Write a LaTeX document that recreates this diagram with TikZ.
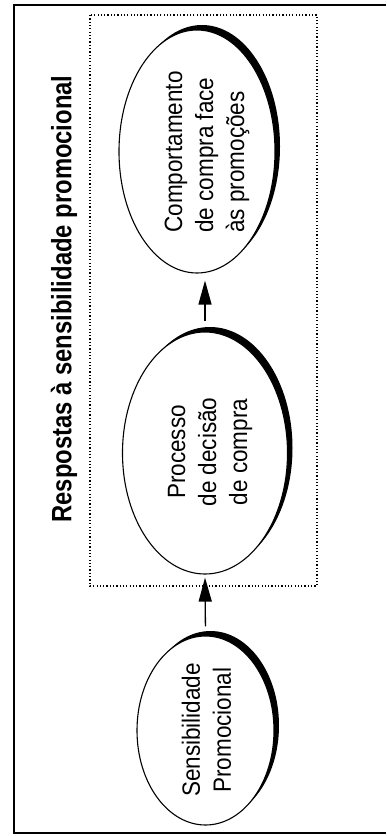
\documentclass[tikz,border=0pt]{standalone}
\usepackage{fontspec}
\setmainfont{Liberation Sans}
\newfontfamily\titlefont[FakeStretch=0.85]{Liberation Sans}
\newfontfamily\stagefont[FakeStretch=0.9]{Liberation Sans}
\usetikzlibrary{arrows.meta,shapes.geometric,shadows}

\begin{document}
\begin{tikzpicture}[x=1pt, y=-1pt,
  stage/.style={ellipse, draw, line width=1.1pt, fill=white, inner sep=0pt,
    drop shadow={shadow xshift=5pt, shadow yshift=5pt, fill=black, opacity=1}},
  stagetext/.style={rotate=90, inner sep=0pt, font=\stagefont\fontsize{25}{31}\selectfont},
  flow/.style={-{Triangle[length=24pt, width=13pt]}, line width=1.3pt}]

\useasboundingbox (0,0) rectangle (386,836);

% Outer frame (open on the right)
\draw[line width=2pt] (386,5) -- (14,5) -- (14,833) -- (386,833);

% Responses block
\draw[line width=1.2pt, dash pattern=on 1.2pt off 2.1pt] (90,15) rectangle (317,586);
\node[rotate=90, inner sep=0pt, font=\titlefont\bfseries\fontsize{28}{30}\selectfont]
  (title) at (64,299) {Respostas à sensibilidade promocional};

% Stages
\node[stage, minimum width=156pt, minimum height=243pt] (comp) at (197,151.5) {};
\node[stage, minimum width=165pt, minimum height=242pt] (proc) at (205,453) {};
\node[stage, minimum width=137pt, minimum height=189pt] (sens) at (205.5,730.5) {};

\node[stagetext, align=left] (comptext) at (207,152) {Comportamento\\de compra face\\às promoções};
\node[stagetext, align=center] (proctext) at (210,452) {Processo\\de decisão\\de compra};
\node[stagetext, align=center] (senstext) at (206.5,730) {Sensibilidade\\Promocional};

% Arrows
\draw[flow, shorten <=9pt, shorten >=3pt] (sens.north) -- (proc.south);
\draw[flow, shorten <=10pt, shorten >=7pt] (proc.north) -- (proc.north |- comp.south);

\end{tikzpicture}
\end{document}
